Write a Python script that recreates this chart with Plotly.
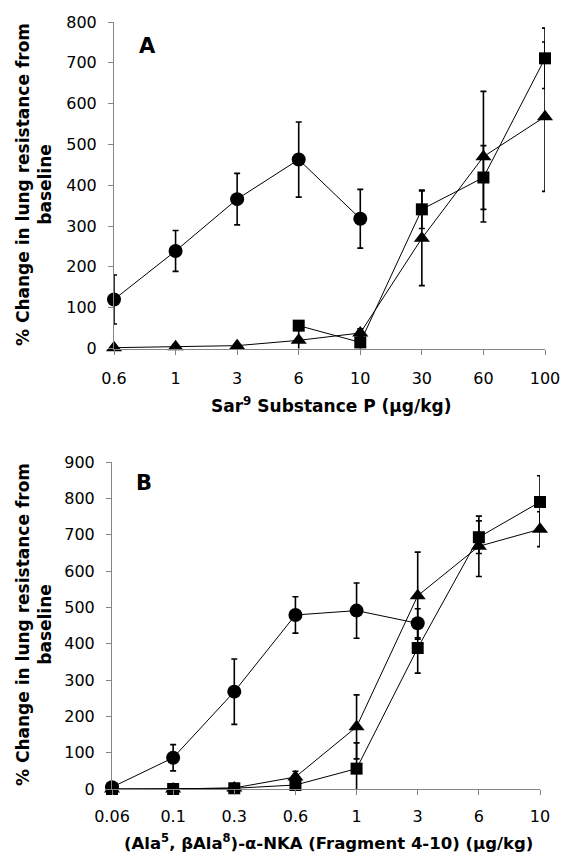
import plotly.graph_objects as go

# ---------------- Panel A data: Sar9 Substance P ----------------
a_doses = ["0.6", "1", "3", "6", "10", "30", "60", "100"]
a_circle = [120, 239, 366, 463, 318, None, None, None]
a_circle_err = [60, 50, 63, 92, 72, 0, 0, 0]
a_square = [None, None, None, 56, 15, 341, 419, 711]
a_square_err = [0, 0, 0, 0, 18, 47, 78, 74]
a_triangle = [2, 4, 7, 20, 38, 270, 470, 568]
a_triangle_err = [0, 0, 0, 28, 10, 116, 160, 183]

# ---------------- Panel B data: (Ala5, bAla8)-a-NKA (4-10) ----------------
b_doses = ["0.06", "0.1", "0.3", "0.6", "1", "3", "6", "10"]
b_circle = [5, 86, 268, 479, 491, 456, None, None]
b_circle_err = [5, 36, 90, 50, 76, 40, 0, 0]
b_square = [0, 0, 2, 11, 56, 388, 693, 790]
b_square_err = [0, 0, 0, 5, 71, 69, 45, 72]
b_triangle = [0, 0, 3, 33, 171, 532, 668, 715]
b_triangle_err = [0, 0, 0, 16, 88, 120, 83, 48]

FONT = "DejaVu Sans"
AXIS_GREY = "#858585"

fig = go.Figure()


def add_series(x, y, err, symbol, size, xa, ya):
    fig.add_trace(go.Scatter(
        x=x, y=y, mode="lines+markers", xaxis=xa, yaxis=ya,
        line=dict(color="black", width=1),
        marker=dict(symbol=symbol, size=size, color="black",
                    line=dict(width=0)),
        error_y=dict(type="data", array=err, visible=True,
                     color="black", thickness=1.6, width=3),
        cliponaxis=False, connectgaps=False, showlegend=False,
        hoverinfo="x+y",
    ))


# panel A
add_series(a_doses, a_square, a_square_err, "square", 12, "x", "y")
add_series(a_doses, a_triangle, a_triangle_err, "triangle-up", 14, "x", "y")
add_series(a_doses, a_circle, a_circle_err, "circle", 14, "x", "y")
# panel B
add_series(b_doses, b_square, b_square_err, "square", 12, "x2", "y2")
add_series(b_doses, b_triangle, b_triangle_err, "triangle-up", 14, "x2", "y2")
add_series(b_doses, b_circle, b_circle_err, "circle", 14, "x2", "y2")

W, H = 564, 857


def px_x(p):
    return p / W


def px_y(p):
    return (H - p) / H


tickfont = dict(family=FONT, size=16, color="black")

common_x = dict(type="category", range=[0, 7], showgrid=False, zeroline=False,
                showline=True, linecolor=AXIS_GREY, linewidth=1,
                ticks="outside", ticklen=5, tickcolor=AXIS_GREY, tickwidth=1,
                tickfont=tickfont, fixedrange=True, automargin=False)
common_y = dict(showgrid=False, zeroline=False, showline=True,
                linecolor=AXIS_GREY, linewidth=1, ticks="outside", ticklen=5,
                tickcolor=AXIS_GREY, tickwidth=1, tickfont=tickfont,
                dtick=100, tick0=0, ticklabelstandoff=8, fixedrange=True,
                automargin=False)

fig.update_layout(
    width=W, height=H, autosize=False,
    margin=dict(l=0, r=0, t=0, b=0, pad=0, autoexpand=False),
    paper_bgcolor="white", plot_bgcolor="white",
    font=dict(family=FONT, color="black"),
    xaxis=dict(**common_x, domain=[px_x(114), px_x(545)], anchor="y",
               categoryorder="array", categoryarray=a_doses,
               ticklabelstandoff=10),
    yaxis=dict(**common_y, domain=[px_y(348.5), px_y(22)], anchor="x",
               range=[0, 800]),
    xaxis2=dict(**common_x, domain=[px_x(112), px_x(540)], anchor="y2",
                categoryorder="array", categoryarray=b_doses,
                ticklabelstandoff=8),
    yaxis2=dict(**common_y, domain=[px_y(789), px_y(462)], anchor="x2",
                range=[0, 900]),
    # inner half of the crossing tick marks on panel B's category axis
    xaxis3=dict(overlaying="x2", anchor="y2", side="bottom", range=[0, 7],
                tickmode="linear", tick0=0, dtick=1, ticks="inside",
                ticklen=5, tickcolor=AXIS_GREY, tickwidth=1,
                showticklabels=False, showline=False, showgrid=False,
                zeroline=False, fixedrange=True, automargin=False),
)

title_font = dict(family=FONT, size=17, color="black")
ytitle = "<b>% Change in lung resistance from<br>baseline</b>"

annotations = [
    dict(text="<b>A</b>", xref="paper", yref="paper", x=px_x(147), y=px_y(45.5),
         xanchor="center", yanchor="middle", showarrow=False,
         font=dict(family=FONT, size=21, color="black")),
    dict(text="<b>B</b>", xref="paper", yref="paper", x=px_x(144), y=px_y(483.5),
         xanchor="center", yanchor="middle", showarrow=False,
         font=dict(family=FONT, size=21, color="black")),
    dict(text=ytitle, xref="paper", yref="paper", x=px_x(34), y=px_y(185),
         xanchor="center", yanchor="middle",
         textangle=-90, showarrow=False, font=title_font, align="center"),
    dict(text=ytitle, xref="paper", yref="paper", x=px_x(34), y=px_y(625),
         xanchor="center", yanchor="middle",
         textangle=-90, showarrow=False, font=title_font, align="center"),
    dict(text="<b>Sar<sup>9</sup> Substance P (µg/kg)</b>", xref="paper",
         yref="paper", x=px_x(331), y=px_y(405), xanchor="center",
         yanchor="middle", showarrow=False, font=title_font),
    dict(text="<b>(Ala<sup>5</sup>, βAla<sup>8</sup>)-α-NKA (Fragment 4-10) (µg/kg)</b>",
         xref="paper", yref="paper", x=px_x(328), y=px_y(842), xanchor="center",
         yanchor="middle", showarrow=False,
         font=dict(family=FONT, size=16.5, color="black")),
]
fig.update_layout(annotations=annotations)

fig.write_html(
    "out.html",
    config={"responsive": False, "displayModeBar": False},
    post_script="document.body.style.margin='0';document.body.style.padding='0';",
)
